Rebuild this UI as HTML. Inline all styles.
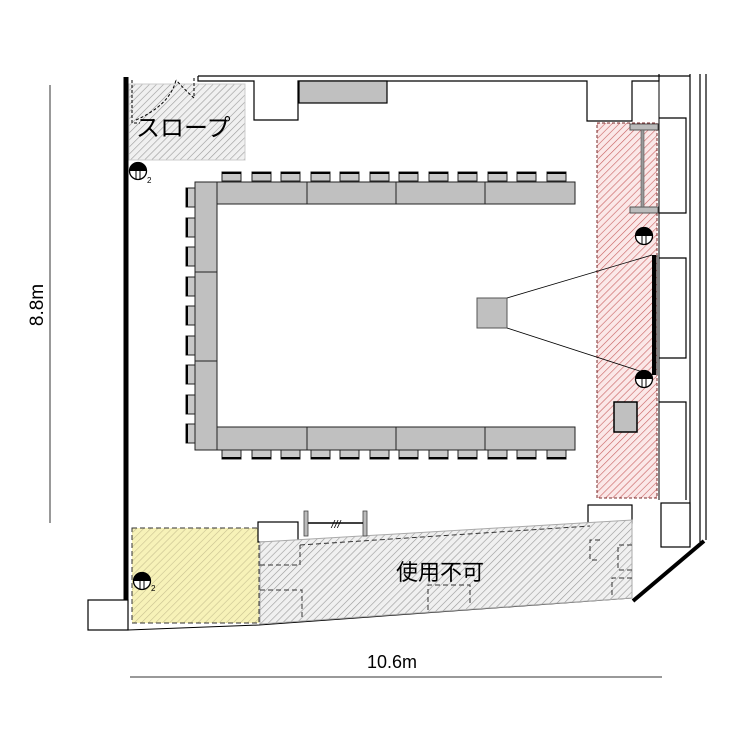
<!DOCTYPE html>
<html><head><meta charset="utf-8"><style>
html,body{margin:0;padding:0;background:#fff;}
svg{display:block;}
</style></head><body>
<svg width="750" height="750" viewBox="0 0 750 750" xmlns="http://www.w3.org/2000/svg" font-family="Liberation Sans, Noto Sans CJK JP, sans-serif">
<defs>
<pattern id="hg" width="5" height="5" patternUnits="userSpaceOnUse" patternTransform="rotate(45)">
<rect width="5" height="5" fill="#f0f0f0"/><line x1="0" y1="0" x2="0" y2="5" stroke="#999" stroke-width="1.2"/></pattern>
<pattern id="hy" width="5" height="5" patternUnits="userSpaceOnUse" patternTransform="rotate(45)">
<rect width="5" height="5" fill="#f7f2b8"/><line x1="0" y1="0" x2="0" y2="5" stroke="#c8c090" stroke-width="1.2"/></pattern>
<pattern id="hr" width="5" height="5" patternUnits="userSpaceOnUse" patternTransform="rotate(45)">
<rect width="5" height="5" fill="#fbe8e8"/><line x1="0" y1="0" x2="0" y2="5" stroke="#c86060" stroke-width="1.2"/></pattern>
<g id="ct"><rect x="0" y="0" width="19" height="9" fill="#c8c8c8" stroke="#222" stroke-width="1"/><line x1="0" y1="1" x2="19" y2="1" stroke="#000" stroke-width="2"/></g>
<g id="cb"><rect x="0" y="0" width="19" height="9" fill="#c8c8c8" stroke="#222" stroke-width="1"/><line x1="0" y1="8" x2="19" y2="8" stroke="#000" stroke-width="2"/></g>
<g id="cl"><rect x="0" y="0" width="9" height="19" fill="#c8c8c8" stroke="#222" stroke-width="1"/><line x1="1" y1="0" x2="1" y2="19" stroke="#000" stroke-width="2"/></g>
<g id="out"><circle r="8.5" fill="#fff" stroke="#000" stroke-width="1.3"/><path d="M-8.5,0 A8.5,8.5 0 0 1 8.5,0 Z" fill="#000"/><line x1="-5" y1="-2" x2="5" y2="-2" stroke="#000" stroke-width="1.3"/><line x1="-2" y1="-2" x2="-2" y2="8" stroke="#000"/><line x1="2" y1="-2" x2="2" y2="8" stroke="#000"/></g>
</defs>

<line x1="50" y1="85" x2="50" y2="523" stroke="#333" stroke-width="1"/>
<text x="36" y="305" font-size="19" text-anchor="middle" transform="rotate(-90 36 305)" dy="7">8.8m</text>
<line x1="130" y1="677" x2="662" y2="677" stroke="#333" stroke-width="1"/>
<text x="392" y="668" font-size="18" text-anchor="middle">10.6m</text>

<polyline points="198,76 690,76" fill="none" stroke="#000" stroke-width="1.2"/>
<polyline points="198,76 198,81 254,81 254,120 298,120 298,81 587,81 587,121 632,121 632,81 659,81 659,74" fill="none" stroke="#000" stroke-width="1.2"/>
<rect x="299" y="81" width="88" height="22" fill="#c0c0c0" stroke="#000" stroke-width="1.2"/>
<line x1="690" y1="74" x2="690" y2="545" stroke="#000" stroke-width="1.2"/>
<line x1="700" y1="74" x2="700" y2="542" stroke="#000" stroke-width="1.2"/>
<line x1="706" y1="74" x2="706" y2="540" stroke="#000" stroke-width="1.2"/>
<polyline points="659,118 686,118 686,213 659,213" fill="none" stroke="#000" stroke-width="1.2"/>
<polyline points="659,258 686,258 686,358 659,358" fill="none" stroke="#000" stroke-width="1.2"/>
<polyline points="659,402 686,402 686,500" fill="none" stroke="#000" stroke-width="1.2"/>
<line x1="659" y1="81" x2="659" y2="500" stroke="#000" stroke-width="1"/>
<rect x="661" y="503" width="29" height="44" fill="#fff" stroke="#000" stroke-width="1.2"/>

<line x1="126" y1="77" x2="126" y2="602" stroke="#000" stroke-width="5"/>

<rect x="129" y="84" width="116" height="76" fill="url(#hg)" stroke="#ccc" stroke-width="1"/>
<polyline points="132,80 132,123 140,123" fill="none" stroke="#000" stroke-width="1" stroke-dasharray="3,2"/>
<path d="M136,120 Q170,105 176,80" fill="none" stroke="#000" stroke-width="1" stroke-dasharray="3,2"/>
<path d="M194,98 Q185,90 176,80" fill="none" stroke="#000" stroke-width="1" stroke-dasharray="3,2"/>
<line x1="194" y1="78" x2="194" y2="98" stroke="#000" stroke-width="1" stroke-dasharray="3,2"/>
<text x="136" y="136" font-size="24" font-family="Liberation Sans, Noto Sans CJK JP, sans-serif">スロープ</text>
<use href="#out" x="138" y="171"/><text x="147" y="183" font-size="8">2</text>

<rect x="597" y="123" width="60" height="375" fill="url(#hr)" stroke="#7a2a2a" stroke-width="1" stroke-dasharray="3,2"/>
<rect x="630" y="124" width="28" height="6" fill="#bbb" stroke="#555"/>
<rect x="630" y="207" width="28" height="6" fill="#bbb" stroke="#555"/>
<rect x="641" y="130" width="3" height="77" fill="#999" stroke="#555" stroke-width="0.6"/>
<use href="#out" x="644" y="236"/>
<use href="#out" x="644" y="379"/>
<rect x="652" y="255" width="4" height="120" fill="#000"/>
<line x1="657" y1="255" x2="657" y2="375" stroke="#000" stroke-width="1"/>
<rect x="614" y="402" width="23" height="30" fill="#c0c0c0" stroke="#000" stroke-width="1.5"/>

<rect x="477" y="298" width="30" height="30" fill="#c0c0c0" stroke="#555" stroke-width="1"/>
<line x1="507" y1="298" x2="652" y2="255" stroke="#000" stroke-width="0.8"/>
<line x1="507" y1="328" x2="652" y2="375" stroke="#000" stroke-width="0.8"/>

<g fill="#c0c0c0" stroke="#222" stroke-width="1">
<rect x="195" y="182" width="22" height="90"/><rect x="195" y="272" width="22" height="89"/><rect x="195" y="361" width="22" height="89"/>
<rect x="217" y="182" width="90" height="22"/><rect x="307" y="182" width="89" height="22"/><rect x="396" y="182" width="89" height="22"/><rect x="485" y="182" width="90" height="22"/>
<rect x="217" y="427" width="90" height="23"/><rect x="307" y="427" width="89" height="23"/><rect x="396" y="427" width="89" height="23"/><rect x="485" y="427" width="90" height="23"/>
</g>
<g>
<use href="#ct" x="222" y="172"/><use href="#ct" x="252" y="172"/><use href="#ct" x="281" y="172"/><use href="#ct" x="311" y="172"/><use href="#ct" x="340" y="172"/><use href="#ct" x="370" y="172"/><use href="#ct" x="399" y="172"/><use href="#ct" x="429" y="172"/><use href="#ct" x="458" y="172"/><use href="#ct" x="488" y="172"/><use href="#ct" x="517" y="172"/><use href="#ct" x="547" y="172"/>
<use href="#cb" x="222" y="450"/><use href="#cb" x="252" y="450"/><use href="#cb" x="281" y="450"/><use href="#cb" x="311" y="450"/><use href="#cb" x="340" y="450"/><use href="#cb" x="370" y="450"/><use href="#cb" x="399" y="450"/><use href="#cb" x="429" y="450"/><use href="#cb" x="458" y="450"/><use href="#cb" x="488" y="450"/><use href="#cb" x="517" y="450"/><use href="#cb" x="547" y="450"/>
<use href="#cl" x="186" y="188"/><use href="#cl" x="186" y="218"/><use href="#cl" x="186" y="247"/><use href="#cl" x="186" y="277"/><use href="#cl" x="186" y="306"/><use href="#cl" x="186" y="336"/><use href="#cl" x="186" y="365"/><use href="#cl" x="186" y="395"/><use href="#cl" x="186" y="424"/>
</g>

<rect x="88" y="600" width="40" height="30" fill="#fff" stroke="#000" stroke-width="1.2"/>
<polyline points="128,630 259,625 632,598" fill="none" stroke="#000" stroke-width="1"/>
<rect x="132" y="528" width="127" height="95" fill="url(#hy)" stroke="#333" stroke-width="1" stroke-dasharray="5,3"/>
<use href="#out" x="142" y="581"/><text x="151" y="591" font-size="8">2</text>
<rect x="258" y="522" width="40" height="20" fill="#fff" stroke="#000" stroke-width="1.2"/>
<rect x="588" y="505" width="44" height="18" fill="#fff" stroke="#000" stroke-width="1.2"/>
<polygon points="260,542 632,520 632,598 260,624" fill="url(#hg)" stroke="#aaa" stroke-width="1"/>
<g fill="none" stroke="#333" stroke-width="1" stroke-dasharray="5,3">
<polyline points="300,545 590,526"/>
<polyline points="600,540 590,540 590,560 600,560"/>
<polyline points="260,565 300,565 300,545"/>
<polyline points="260,590 302,590 302,618"/>
<polyline points="428,610 428,585 470,585 470,606"/>
<polyline points="632,545 618,545 618,570 632,570"/>
<polyline points="632,578 612,578 612,598"/>
</g>
<text x="440" y="580" font-size="22" text-anchor="middle" font-family="Liberation Sans, Noto Sans CJK JP, sans-serif">使用不可</text>
<line x1="633" y1="601" x2="704" y2="541" stroke="#000" stroke-width="4"/>
<rect x="304" y="511" width="4" height="25" fill="#bbb" stroke="#444" stroke-width="0.8"/>
<rect x="363" y="511" width="4" height="25" fill="#bbb" stroke="#444" stroke-width="0.8"/>
<line x1="308" y1="523" x2="363" y2="523" stroke="#000" stroke-width="1.5"/>
<text x="336" y="528" font-size="11" text-anchor="middle" font-style="italic">///</text>
</svg>
</body></html>
